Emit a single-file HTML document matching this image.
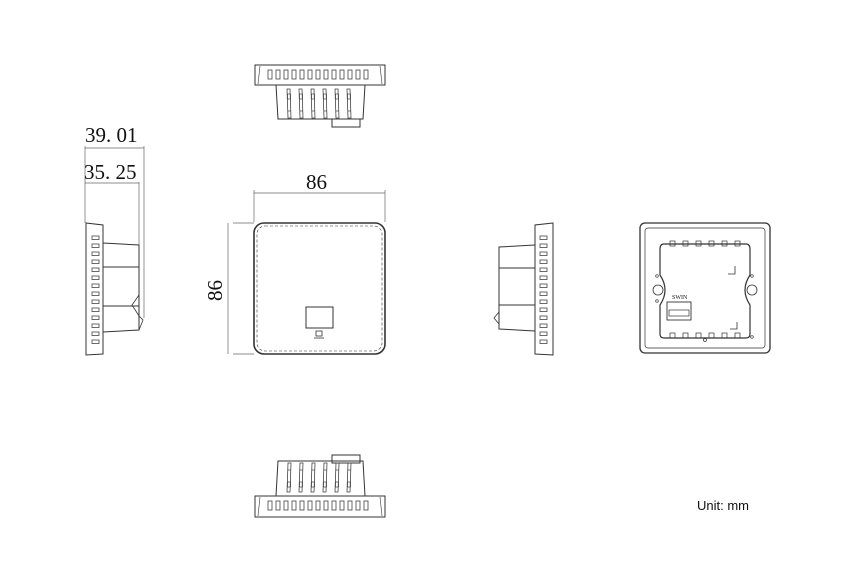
<!DOCTYPE html>
<html><head><meta charset="utf-8"><style>
html,body{margin:0;padding:0;background:#fff;}
svg{display:block;}
text{font-family:"Liberation Serif",serif;fill:#111;}
</style></head><body>
<svg width="864" height="581" viewBox="0 0 864 581" xmlns="http://www.w3.org/2000/svg">
<defs>
<rect id="sv" width="4" height="9" fill="none" stroke="#444" stroke-width="0.8"/>
<rect id="sh" width="7" height="3.5" fill="none" stroke="#444" stroke-width="0.8"/>
<g id="fin"><path d="M0 0 L3 0 L4 29 L1 29 Z" fill="none" stroke="#444" stroke-width="0.8"/><rect x="0.5" y="5" width="3" height="5" fill="none" stroke="#444" stroke-width="0.7"/><line x1="1" y1="22" x2="4" y2="22" stroke="#444" stroke-width="0.7"/></g>
</defs>
<g fill="none" stroke="#333" stroke-width="1">
<!-- TOP VIEW -->
<path d="M255 65 H385 V85 H255 Z"/>
<line x1="260" y1="66" x2="258" y2="84" stroke-width="0.6"/><line x1="380" y1="66" x2="382" y2="84" stroke-width="0.6"/>
<path d="M276 85 L278 119 H363 L365 85"/>
<rect x="332" y="119" width="28" height="8"/>
<g>
<use href="#sv" x="268" y="70"/><use href="#sv" x="276" y="70"/><use href="#sv" x="284" y="70"/><use href="#sv" x="292" y="70"/><use href="#sv" x="300" y="70"/><use href="#sv" x="308" y="70"/><use href="#sv" x="316" y="70"/><use href="#sv" x="324" y="70"/><use href="#sv" x="332" y="70"/><use href="#sv" x="340" y="70"/><use href="#sv" x="348" y="70"/><use href="#sv" x="356" y="70"/><use href="#sv" x="364" y="70"/>
</g>
<use href="#fin" x="287" y="89"/><use href="#fin" x="299" y="89"/><use href="#fin" x="311" y="89"/><use href="#fin" x="323" y="89"/><use href="#fin" x="335" y="89"/><use href="#fin" x="347" y="89"/>
<!-- BOTTOM VIEW -->
<path d="M255 496 H385 V517 H255 Z"/>
<line x1="260" y1="497" x2="258" y2="516" stroke-width="0.6"/><line x1="380" y1="497" x2="382" y2="516" stroke-width="0.6"/>
<path d="M276 496 L278 461 H363 L365 496"/>
<rect x="332" y="455" width="28" height="8"/>
<use href="#sv" x="268" y="501"/><use href="#sv" x="276" y="501"/><use href="#sv" x="284" y="501"/><use href="#sv" x="292" y="501"/><use href="#sv" x="300" y="501"/><use href="#sv" x="308" y="501"/><use href="#sv" x="316" y="501"/><use href="#sv" x="324" y="501"/><use href="#sv" x="332" y="501"/><use href="#sv" x="340" y="501"/><use href="#sv" x="348" y="501"/><use href="#sv" x="356" y="501"/><use href="#sv" x="364" y="501"/>
<g transform="translate(0,956) scale(1,-1)"><use href="#fin" x="287" y="464"/><use href="#fin" x="299" y="464"/><use href="#fin" x="311" y="464"/><use href="#fin" x="323" y="464"/><use href="#fin" x="335" y="464"/><use href="#fin" x="347" y="464"/></g>
<!-- LEFT SIDE -->
<path d="M86 223 L103 225 V354 L86 355 Z"/>
<path d="M103 243 L139 245 V330 L103 332"/>
<line x1="103" y1="267" x2="139" y2="267"/><line x1="103" y1="306" x2="139" y2="306"/>
<path d="M139 295 L132 305 L139 316 L143 320 L139 330" stroke-width="0.8"/>
<use href="#sh" x="92" y="236"/><use href="#sh" x="92" y="244"/><use href="#sh" x="92" y="252"/><use href="#sh" x="92" y="260"/><use href="#sh" x="92" y="268"/><use href="#sh" x="92" y="276"/><use href="#sh" x="92" y="284"/><use href="#sh" x="92" y="292"/><use href="#sh" x="92" y="300"/><use href="#sh" x="92" y="308"/><use href="#sh" x="92" y="316"/><use href="#sh" x="92" y="324"/><use href="#sh" x="92" y="332"/><use href="#sh" x="92" y="340"/>
<!-- dims -->
<g stroke="#666" stroke-width="0.7">
<line x1="85" y1="146" x2="85" y2="223"/><line x1="144" y1="146" x2="144" y2="318"/>
<line x1="85" y1="148" x2="144" y2="148"/>
<line x1="139" y1="182" x2="139" y2="245"/>
<line x1="85" y1="183" x2="139" y2="183"/>
<line x1="233" y1="223" x2="254" y2="223"/><line x1="233" y1="354" x2="254" y2="354"/>
<line x1="228" y1="223" x2="228" y2="354"/>
<line x1="254" y1="190" x2="254" y2="222"/><line x1="385" y1="190" x2="385" y2="222"/>
<line x1="254" y1="193" x2="385" y2="193"/>
</g>
<!-- FRONT -->
<rect x="254" y="223" width="131" height="131" rx="10" stroke-width="1.6"/>
<rect x="257" y="226" width="125" height="125" rx="8" stroke-width="0.6" stroke-dasharray="3 2"/>
<rect x="306" y="307" width="27" height="21"/>
<rect x="316" y="331" width="6" height="5" stroke-width="0.8"/><line x1="314" y1="338" x2="324" y2="338" stroke-width="0.8"/>
<!-- RIGHT SIDE -->
<path d="M553 223 L535 225 V354 L553 355 Z"/>
<path d="M535 245 L499 247 V329 L535 331"/>
<line x1="499" y1="268" x2="535" y2="268"/><line x1="499" y1="305" x2="535" y2="305"/>
<path d="M499 312 L494 318 L499 324" stroke-width="0.8"/>
<use href="#sh" x="540" y="236"/><use href="#sh" x="540" y="244"/><use href="#sh" x="540" y="252"/><use href="#sh" x="540" y="260"/><use href="#sh" x="540" y="268"/><use href="#sh" x="540" y="276"/><use href="#sh" x="540" y="284"/><use href="#sh" x="540" y="292"/><use href="#sh" x="540" y="300"/><use href="#sh" x="540" y="308"/><use href="#sh" x="540" y="316"/><use href="#sh" x="540" y="324"/><use href="#sh" x="540" y="332"/><use href="#sh" x="540" y="340"/>
<!-- BACK -->
<rect x="640" y="223" width="130" height="130" rx="5" stroke-width="1.3"/>
<rect x="645" y="228" width="120" height="120" rx="3" stroke-width="0.7"/>
<path d="M664 244 H746 Q750 244 750 249 V275 Q740 290 750 305 V334 Q750 338 746 338 H664 Q660 338 660 334 V305 Q670 290 660 275 V249 Q660 244 664 244 Z" stroke-width="1.2"/>
<circle cx="658" cy="290" r="5" stroke-width="0.8"/><circle cx="752" cy="290" r="5" stroke-width="0.8"/>
<rect x="667" y="302" width="24" height="18" stroke-width="0.9"/><rect x="669" y="310" width="20" height="6" stroke-width="0.7"/>
<path d="M728 274 H735 V266" stroke-width="0.8"/><path d="M730 329 H737 V322" stroke-width="0.8"/>
<g stroke-width="0.7"><rect x="670" y="241" width="5" height="5"/><rect x="683" y="241" width="5" height="5"/><rect x="696" y="241" width="5" height="5"/><rect x="709" y="241" width="5" height="5"/><rect x="722" y="241" width="5" height="5"/><rect x="735" y="241" width="5" height="5"/>
<rect x="670" y="333" width="5" height="5"/><rect x="683" y="333" width="5" height="5"/><rect x="696" y="333" width="5" height="5"/><rect x="709" y="333" width="5" height="5"/><rect x="722" y="333" width="5" height="5"/><rect x="735" y="333" width="5" height="5"/>
<circle cx="705" cy="340" r="1.5"/><circle cx="657" cy="276" r="1.3"/><circle cx="657" cy="301" r="1.3"/><circle cx="752" cy="276" r="1.3"/><circle cx="752" cy="337" r="1.3"/></g>
</g>
<text x="672" y="299" font-size="6" font-family="Liberation Sans,sans-serif">SWIN</text>
<text x="85" y="142" font-size="21">39. 01</text>
<text x="84" y="179" font-size="21">35. 25</text>
<text x="306" y="189" font-size="21">86</text>
<text transform="translate(222,301) rotate(-90)" font-size="21">86</text>
<text x="697" y="510" font-size="13" style="font-family:'Liberation Sans',sans-serif">Unit: mm</text>
</svg>
</body></html>
